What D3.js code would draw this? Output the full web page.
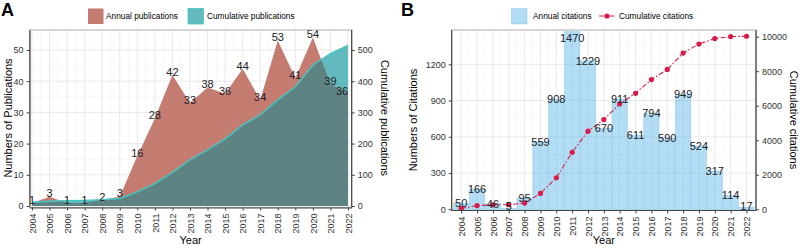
<!DOCTYPE html>
<html>
<head>
<meta charset="utf-8">
<script src="https://cdn.jsdelivr.net/npm/d3@7"></script>
<style>
  body { margin: 0; background: #fff; }
  svg { display: block; font-family: "Liberation Sans", Arial, sans-serif; }
  .tick text { fill: #333; font-size: 9px; }
</style>
</head>
<body>
<div id="chart"></div>
<script>
// data
const years = [2004, 2005, 2006, 2007, 2008, 2009, 2010, 2011, 2012, 2013,
               2014, 2015, 2016, 2017, 2018, 2019, 2020, 2021, 2022];
const annualPubs = [1, 3, 1, 1, 2, 3, 16, 28, 42, 33, 38, 36, 44, 34, 53, 41, 54, 39, 36];
const cumulativePubs = [12, 15, 17, 18, 20, 24, 45, 72, 108, 148, 180, 215, 260, 292, 340, 382, 452, 488, 515];
const annualCites = [50, 166, 46, 5, 95, 559, 908, 1470, 1229, 670, 911, 611, 794, 590, 949, 524, 317, 114, 17];
const cumulativeCites = [50, 216, 262, 267, 362, 921, 1829, 3299, 4528, 5198, 6109, 6720, 7514, 8104, 9053, 9577, 9894, 10008, 10025];
const pubTicks = [0, 10, 20, 30, 40, 50];
const pubCumTicks = [0, 100, 200, 300, 400, 500];
const citeTicks = [0, 300, 600, 900, 1200];
const citeCumTicks = [0, 2000, 4000, 6000, 8000, 10000];

const W = 800, H = 248;
const svg = d3.select("#chart").append("svg").attr("width", W).attr("height", H);

const RED = "#c47b70", TEAL = "#62b9be", OVERLAP = "#5d8482", TEAL_LINE = "#45c6c4";
const BLUE = "rgba(86,180,233,0.45)", CRIMSON = "#d81b4a";
const fmt = d3.format("d");

function grid(g, x0, x1, y0, y1, xs, xsMinor, ys, ysMinor) {
    g.selectAll(".gminor-x").data(xsMinor).enter().append("line")
        .attr("x1", d => d).attr("x2", d => d).attr("y1", y0).attr("y2", y1)
        .attr("stroke", "#f2f2f2").attr("stroke-width", 0.6);
    g.selectAll(".gminor-y").data(ysMinor).enter().append("line")
        .attr("x1", x0).attr("x2", x1).attr("y1", d => d).attr("y2", d => d)
        .attr("stroke", "#f2f2f2").attr("stroke-width", 0.6);
    g.selectAll(".gmajor-x").data(xs).enter().append("line")
        .attr("x1", d => d).attr("x2", d => d).attr("y1", y0).attr("y2", y1)
        .attr("stroke", "#e6e6e6").attr("stroke-width", 0.9);
    g.selectAll(".gmajor-y").data(ys).enter().append("line")
        .attr("x1", x0).attr("x2", x1).attr("y1", d => d).attr("y2", d => d)
        .attr("stroke", "#e6e6e6").attr("stroke-width", 0.9);
}

function styleAxis(g) {
    g.select(".domain").attr("stroke", "#444").attr("stroke-width", 1.2);
    g.selectAll(".tick line").attr("stroke", "#444");
}

// ---------------- Panel A ----------------
const A = { left: 29.5, right: 351.7, top: 30, bottom: 207.5 };
const xA = d3.scaleLinear().domain([2003.86, 2022.21]).range([A.left, A.right]);
const yA = d3.scaleLinear().domain([0, 56.4]).range([206, A.top]);
const yA2 = d3.scaleLinear().domain([0, 564]).range([206, A.top]);

const gA = svg.append("g");
grid(gA, A.left, A.right, A.top, A.bottom,
    years.map(xA), years.slice(1).map(d => xA(d - 0.5)),
    pubTicks.map(yA), pubTicks.map(d => yA(d + 5)).filter(v => v > A.top));

const areaRed = d3.area().x((d, i) => xA(years[i])).y0(yA(0)).y1(d => yA(d));
const areaTeal = d3.area().x((d, i) => xA(years[i])).y0(yA2(0)).y1(d => yA2(d));

gA.append("path").datum(cumulativePubs).attr("d", areaTeal).attr("fill", TEAL);
gA.append("path").datum(annualPubs).attr("d", areaRed).attr("fill", RED);
svg.append("clipPath").attr("id", "redClip")
    .append("path").datum(annualPubs).attr("d", areaRed);
gA.append("path").datum(cumulativePubs).attr("d", areaTeal)
    .attr("fill", OVERLAP).attr("clip-path", "url(#redClip)");
gA.append("path").datum(cumulativePubs)
    .attr("d", d3.line().x((d, i) => xA(years[i])).y(d => yA2(d)))
    .attr("fill", "none").attr("stroke", TEAL_LINE).attr("stroke-width", 1.4);

gA.selectAll(".lblA").data(annualPubs).enter().append("text")
    .attr("x", (d, i) => Math.min(Math.max(xA(years[i]), 32), 342))
    .attr("y", d => yA(d) - 3)
    .attr("dy", "0.35em")
    .attr("text-anchor", "middle")
    .style("font-size", "11px").style("fill", "#222")
    .text(d => d);

gA.append("rect").attr("x", A.left).attr("y", A.top)
    .attr("width", A.right - A.left).attr("height", A.bottom - A.top)
    .attr("fill", "none").attr("stroke", "#999").attr("stroke-width", 0.8);

const axAL = svg.append("g").attr("transform", `translate(${A.left},0)`)
    .call(d3.axisLeft(yA).tickValues(pubTicks).tickFormat(fmt).tickSize(3).tickPadding(3).tickSizeOuter(0));
styleAxis(axAL);
const axAR = svg.append("g").attr("transform", `translate(${A.right},0)`)
    .call(d3.axisRight(yA2).tickValues(pubCumTicks).tickFormat(fmt).tickSize(3).tickPadding(3).tickSizeOuter(0));
styleAxis(axAR);
axAR.select(".domain").attr("d", `M0,${A.top}V${A.bottom}`);
const axAB = svg.append("g").attr("transform", `translate(0,${A.bottom})`)
    .call(d3.axisBottom(xA).tickValues(years).tickFormat(fmt).tickSize(3).tickSizeOuter(0));
styleAxis(axAB);
axAB.selectAll("text").attr("transform", "rotate(-90)")
    .attr("x", -6).attr("y", 0).attr("dy", "0.35em").style("text-anchor", "end");

svg.append("text").attr("transform", "translate(8,118) rotate(-90)")
    .attr("text-anchor", "middle").attr("dy", "0.35em")
    .style("font-size", "11px").text("Numbers of Publications");
svg.append("text").attr("transform", "translate(385,118) rotate(90)")
    .attr("text-anchor", "middle").attr("dy", "0.35em")
    .style("font-size", "11px").text("Cumulative publications");
svg.append("text").attr("x", (A.left + A.right) / 2).attr("y", 240)
    .attr("text-anchor", "middle").attr("dy", "0.35em")
    .style("font-size", "11px").text("Year");
svg.append("text").attr("x", 1).attr("y", 16)
    .style("font-size", "18px").style("font-weight", "bold").text("A");

// legend A
const legA = svg.append("g");
legA.append("rect").attr("x", 88).attr("y", 8.5).attr("width", 15.5).attr("height", 15.5).attr("fill", RED);
legA.append("text").attr("x", 106).attr("y", 16.5).attr("dy", "0.35em").style("font-size", "8.3px").text("Annual publications");
legA.append("rect").attr("x", 188).attr("y", 8.5).attr("width", 15.5).attr("height", 15.5)
    .attr("fill", TEAL).attr("stroke", TEAL_LINE).attr("stroke-width", 0.8);
legA.append("text").attr("x", 207).attr("y", 16.5).attr("dy", "0.35em").style("font-size", "8.3px").text("Cumulative publications");

// ---------------- Panel B ----------------
const B = { left: 451.7, right: 756, top: 30, bottom: 210.5 };
const xB = d3.scalePoint().domain(years).range([B.left, B.right]).padding(0.6);
const step = xB.step();
const yB = d3.scaleLinear().domain([0, 1484]).range([209.3, B.top]);
const yB2 = d3.scaleLinear().domain([0, 10388]).range([209.3, B.top]);

const gB = svg.append("g");
grid(gB, B.left, B.right, B.top, B.bottom,
    years.map(xB), years.slice(1).map(d => xB(d) - step / 2),
    citeTicks.map(yB), citeTicks.map(d => yB(d + 150)).filter(v => v > B.top));

gB.selectAll(".bar").data(annualCites).enter().append("rect")
    .attr("x", (d, i) => xB(years[i]) - step * 0.475)
    .attr("width", step * 0.95)
    .attr("y", d => yB(d))
    .attr("height", d => yB(0) - yB(d))
    .attr("fill", BLUE)
    .attr("stroke", "rgba(86,180,233,0.55)").attr("stroke-width", 0.6);

gB.append("path").datum(cumulativeCites)
    .attr("d", d3.line().x((d, i) => xB(years[i])).y(d => yB2(d)))
    .attr("fill", "none").attr("stroke", CRIMSON).attr("stroke-width", 1.1)
    .attr("stroke-dasharray", "5,2,1.5,2");
gB.selectAll(".pt").data(cumulativeCites).enter().append("circle")
    .attr("cx", (d, i) => xB(years[i])).attr("cy", d => yB2(d))
    .attr("r", 2.6).attr("fill", CRIMSON);

gB.selectAll(".lblB").data(annualCites).enter().append("text")
    .attr("x", (d, i) => xB(years[i]))
    .attr("y", d => Math.min(Math.max(yB(d), 38), 206.5))
    .attr("dy", "0.35em").attr("text-anchor", "middle")
    .style("font-size", "11px").style("fill", "#222")
    .text(d => d);

gB.append("rect").attr("x", B.left).attr("y", B.top)
    .attr("width", B.right - B.left).attr("height", B.bottom - B.top)
    .attr("fill", "none").attr("stroke", "#999").attr("stroke-width", 0.8);

const axBL = svg.append("g").attr("transform", `translate(${B.left},0)`)
    .call(d3.axisLeft(yB).tickValues(citeTicks).tickFormat(fmt).tickSize(3).tickPadding(3).tickSizeOuter(0));
styleAxis(axBL);
axBL.select(".domain").attr("d", `M0,${B.top}V${B.bottom}`);
const axBR = svg.append("g").attr("transform", `translate(${B.right},0)`)
    .call(d3.axisRight(yB2).tickValues(citeCumTicks).tickFormat(fmt).tickSize(3).tickPadding(3).tickSizeOuter(0));
styleAxis(axBR);
axBR.select(".domain").attr("d", `M0,${B.top}V${B.bottom}`);
const axBB = svg.append("g").attr("transform", `translate(0,${B.bottom})`)
    .call(d3.axisBottom(xB).tickFormat(fmt).tickSize(3).tickSizeOuter(0));
styleAxis(axBB);
axBB.select(".domain").attr("d", `M${B.left},0H${B.right}`);
axBB.selectAll("text").attr("transform", "rotate(-90)")
    .attr("x", -6).attr("y", 0).attr("dy", "0.35em").style("text-anchor", "end");

svg.append("text").attr("transform", "translate(413,120) rotate(-90)")
    .attr("text-anchor", "middle").attr("dy", "0.35em")
    .style("font-size", "11px").text("Numbers of Citations");
svg.append("text").attr("transform", "translate(794,120) rotate(90)")
    .attr("text-anchor", "middle").attr("dy", "0.35em")
    .style("font-size", "11px").text("Cumulative citations");
svg.append("text").attr("x", (B.left + B.right) / 2).attr("y", 240)
    .attr("text-anchor", "middle").attr("dy", "0.35em")
    .style("font-size", "11px").text("Year");
svg.append("text").attr("x", 401).attr("y", 16)
    .style("font-size", "18px").style("font-weight", "bold").text("B");

// legend B
const legB = svg.append("g");
legB.append("rect").attr("x", 511.5).attr("y", 8.5).attr("width", 15.5).attr("height", 15.5)
    .attr("fill", BLUE).attr("stroke", "rgba(86,180,233,0.55)").attr("stroke-width", 0.6);
legB.append("text").attr("x", 533).attr("y", 16.5).attr("dy", "0.35em").style("font-size", "8.3px").text("Annual citations");
legB.append("line").attr("x1", 599).attr("x2", 615).attr("y1", 16).attr("y2", 16)
    .attr("stroke", CRIMSON).attr("stroke-width", 1.1).attr("stroke-dasharray", "5,2,1.5,2");
legB.append("circle").attr("cx", 607).attr("cy", 16).attr("r", 2.6).attr("fill", CRIMSON);
legB.append("text").attr("x", 619).attr("y", 16.5).attr("dy", "0.35em").style("font-size", "8.3px").text("Cumulative citations");
</script>
</body>
</html>
